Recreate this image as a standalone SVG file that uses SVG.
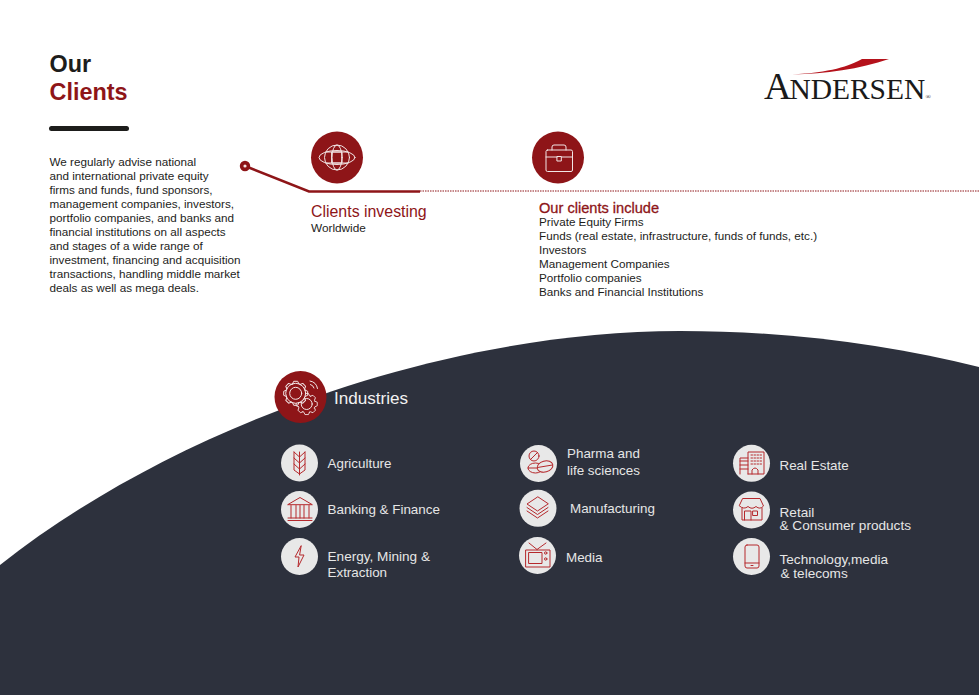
<svg xmlns="http://www.w3.org/2000/svg" width="979" height="695" viewBox="0 0 979 695">
<style>
text{font-family:"Liberation Sans",Arial,sans-serif}
.body{font-size:11.7px;fill:#1d1d1b}
.list{font-size:11.7px;fill:#1d1d1b}
.h{fill:#8e1518}
.ind{font-size:13.4px;fill:#e6e6e6}
.ind2{font-size:13.6px;fill:#e6e6e6}
.badge{fill:#8e1518}
.disc{fill:#e8e8e8}
.wi{fill:none;stroke:#f2e6e6;stroke-width:1;stroke-linejoin:round;stroke-linecap:round}
.ri{fill:none;stroke:#b5282c;stroke-width:1;stroke-linejoin:round;stroke-linecap:round}
.serif{font-family:"Liberation Serif",serif;fill:#1a1a1a}
</style>
<defs>
<path id="tooth" d="M-3.200,-9.300L-2,-12H2L3.200,-9.300A9.800,9.800 0 0 1 4.500,-8.700"/>
<g id="gear">
<use href="#tooth"/><use href="#tooth" transform="rotate(45)"/><use href="#tooth" transform="rotate(90)"/><use href="#tooth" transform="rotate(135)"/><use href="#tooth" transform="rotate(180)"/><use href="#tooth" transform="rotate(225)"/><use href="#tooth" transform="rotate(270)"/><use href="#tooth" transform="rotate(315)"/>
</g>
</defs>
<rect width="979" height="695" fill="#ffffff"/>
<path id="arc" d="M0,565 C170,430 440,331 680,331 C790,331 890,345 979,367 L979,695 L0,695 Z" fill="#2d313d"/>
<g id="title">
<text x="49.500" y="72" font-size="23.400" font-weight="700" fill="#1d1d1b">Our</text>
<text x="49.500" y="100" font-size="23.400" font-weight="700" fill="#8e1518">Clients</text>
<rect x="49" y="126" width="80" height="5" rx="2.500" fill="#1d1d1b"/>
</g>
<g id="intro">
<text class="body" x="49.500" y="166">We regularly advise national</text>
<text class="body" x="49.500" y="180">and international private equity</text>
<text class="body" x="49.500" y="194">firms and funds, fund sponsors,</text>
<text class="body" x="49.500" y="208">management companies, investors,</text>
<text class="body" x="49.500" y="222">portfolio companies, and banks and</text>
<text class="body" x="49.500" y="236">financial institutions on all aspects</text>
<text class="body" x="49.500" y="250">and stages of a wide range of</text>
<text class="body" x="49.500" y="264">investment, financing and acquisition</text>
<text class="body" x="49.500" y="278">transactions, handling middle market</text>
<text class="body" x="49.500" y="292">deals as well as mega deals.</text>
</g>
<g id="logo">
<path d="M792,74.500 C830,72.500 850,66 862,59 L889,59 C860,69 825,74 792,74.500 Z" fill="#b5121b"/>
<text x="764" y="99" font-size="38" class="serif">A</text>
<text x="789.500" y="99" font-size="29.500" letter-spacing="-0.050" class="serif">NDERSEN</text>
<text x="925.500" y="99" font-size="7" class="serif">®</text>
</g>
<g id="connectors">
<path d="M245,166 L309,191.500 L420,191.500" fill="none" stroke="#8e1518" stroke-width="2.600"/>
<circle cx="245" cy="166" r="3.400" fill="#f5e5e5" stroke="#8e1518" stroke-width="3.600"/>
<line x1="420" y1="191" x2="979" y2="191" stroke="#8e1518" stroke-width="1" stroke-dasharray="1.500 1"/>
</g>
<g id="clients-investing">
<circle class="badge" cx="337" cy="157.500" r="26"/>
<g class="wi"><ellipse cx="337" cy="157.500" rx="12.500" ry="12.500"/><ellipse cx="337" cy="157.500" rx="5" ry="12.500"/><ellipse cx="337" cy="157.500" rx="18" ry="7"/><path d="M326,152H348M326,163H348"/><rect x="332" y="152" width="10" height="11"/></g>
<text x="311" y="217" font-size="15.900" class="h">Clients investing</text>
<text x="311" y="232" font-size="11.800" fill="#1d1d1b">Worldwide</text>
</g>
<g id="clients-include">
<circle class="badge" cx="558" cy="157.500" r="26"/>
<g class="wi"><rect x="546" y="150" width="26.500" height="21.500" rx="1.500"/><path d="M552,150V147Q552,145 554,145H564Q566,145 566,147V150M546,157H557M561.500,157H572.500"/><rect x="557.300" y="156.500" width="4" height="4.500"/></g>
<text x="539" y="213" font-size="14.600" stroke="#8e1518" stroke-width="0.300" class="h">Our clients include</text>
<text x="539" y="225.500" class="list">Private Equity Firms</text>
<text x="539" y="239.500" class="list">Funds (real estate, infrastructure, funds of funds, etc.)</text>
<text x="539" y="253.500" class="list">Investors</text>
<text x="539" y="267.500" class="list">Management Companies</text>
<text x="539" y="281.500" class="list">Portfolio companies</text>
<text x="539" y="295.500" class="list">Banks and Financial Institutions</text>
</g>
<g id="industries">
<circle class="badge" cx="300.500" cy="397" r="26"/>
<g class="wi">
<use href="#gear" transform="translate(306.700,404) scale(.88)"/><circle cx="306.700" cy="404" r="5.500"/>
<circle cx="295.700" cy="393.300" r="10" fill="#8e1518"/>
<use href="#gear" transform="translate(295.700,393.300)"/><circle cx="295.700" cy="393.300" r="6"/>
<path d="M310,381A9,9 0 0 1 317.500,388.500M310.500,384.500A5,5 0 0 1 314,388"/></g>
<text x="334" y="404" font-size="17.100" fill="#f2f2f2">Industries</text>
</g>
<g id="agriculture">
<circle class="disc" cx="299.500" cy="463" r="18.500"/>
<g class="ri"><path d="M299.500,452V475M294,452L299.500,457L305,452M294,458L299.500,463L305,458M294,464L299.500,469L305,464M294,452V470L299.500,474M305,452V470L299.500,474"/></g>
<text x="327.500" y="467.500" class="ind">Agriculture</text>
</g>
<g id="banking">
<circle class="disc" cx="299.500" cy="509.500" r="18.500"/>
<g class="ri"><path d="M288,504.500L300,497.500L312,504.500ZM288,518H312M288,520.500H312M291,505.500V518M296,505.500V518M300,505.500V518M304,505.500V518M309,505.500V518"/></g>
<text x="327.500" y="514" class="ind">Banking &amp; Finance</text>
</g>
<g id="energy">
<circle class="disc" cx="299.500" cy="556.500" r="18.500"/>
<g class="ri"><path d="M301,546L295,557H299L298,567L304,555H300Z"/></g>
<text x="327.500" y="560.500" class="ind2">Energy, Mining &amp;</text>
<text x="327.500" y="577" class="ind">Extraction</text>
</g>
<g id="pharma">
<circle class="disc" cx="538.500" cy="463.500" r="18.500"/>
<g class="ri"><circle cx="534" cy="456" r="5"/><path d="M530.500,459.500L537.500,452.500"/><ellipse cx="535.500" cy="468" rx="7.500" ry="5"/><path d="M528,468H543"/><ellipse cx="545" cy="466.500" rx="8" ry="5.500" transform="rotate(-15 545 466.500)" fill="#e8e8e8"/><path d="M537.500,467.500L552.500,465"/></g>
<text x="567" y="458" class="ind">Pharma and</text>
<text x="567" y="475" class="ind">life sciences</text>
</g>
<g id="manufacturing">
<circle class="disc" cx="538" cy="508.300" r="18.500"/>
<g class="ri"><path d="M537.500,497L527,504L537.500,511L548,504ZM527,507.500L537.500,514.500L548,507.500M527,511L537.500,518L548,511"/></g>
<text x="570" y="513" class="ind">Manufacturing</text>
</g>
<g id="media">
<circle class="disc" cx="537.500" cy="555.500" r="18.500"/>
<g class="ri"><rect x="526" y="550" width="24" height="17"/><rect x="529" y="552.500" width="13" height="11"/><circle cx="545.700" cy="553" r="1.200"/><circle cx="545.700" cy="559" r="1.200"/><path d="M529,543L537,549.500M546,543L537,549.500"/></g>
<text x="566" y="562" class="ind">Media</text>
</g>
<g id="real-estate">
<circle class="disc" cx="751.500" cy="463.300" r="18.500"/>
<g class="ri"><path d="M748,474V452H764V474H748M740,474V458H748M740,461H748M740,465H748M740,469H748M752,474V470Q755,466 758,470V474"/><path stroke-dasharray="1.500 1.500" d="M751,455H762M751,458H762M751,461H762M751,464H762"/></g>
<text x="779.500" y="470" class="ind">Real Estate</text>
</g>
<g id="retail">
<circle class="disc" cx="751.500" cy="510" r="18.500"/>
<g class="ri"><path d="M743,498.500H760L763.500,506Q760,510 756,506.500Q752,510 748,506.500Q744,510 739.500,506Z"/><path d="M742,508V520H762V508M744.500,520V511H751V520"/><rect x="753" y="511" width="4.500" height="4.500"/></g>
<text x="779.500" y="516.500" class="ind2">Retail</text>
<text x="779.500" y="530" class="ind2">&amp; Consumer products</text>
</g>
<g id="technology">
<circle class="disc" cx="751.500" cy="556.500" r="18.500"/>
<g class="ri"><rect x="745" y="545" width="14" height="23" rx="2"/><path d="M745,563H759M751,565.500H753"/></g>
<text x="779.500" y="563.500" class="ind2">Technology,media</text>
<text x="780.500" y="577.500" class="ind2">&amp; telecoms</text>
</g>
</svg>
